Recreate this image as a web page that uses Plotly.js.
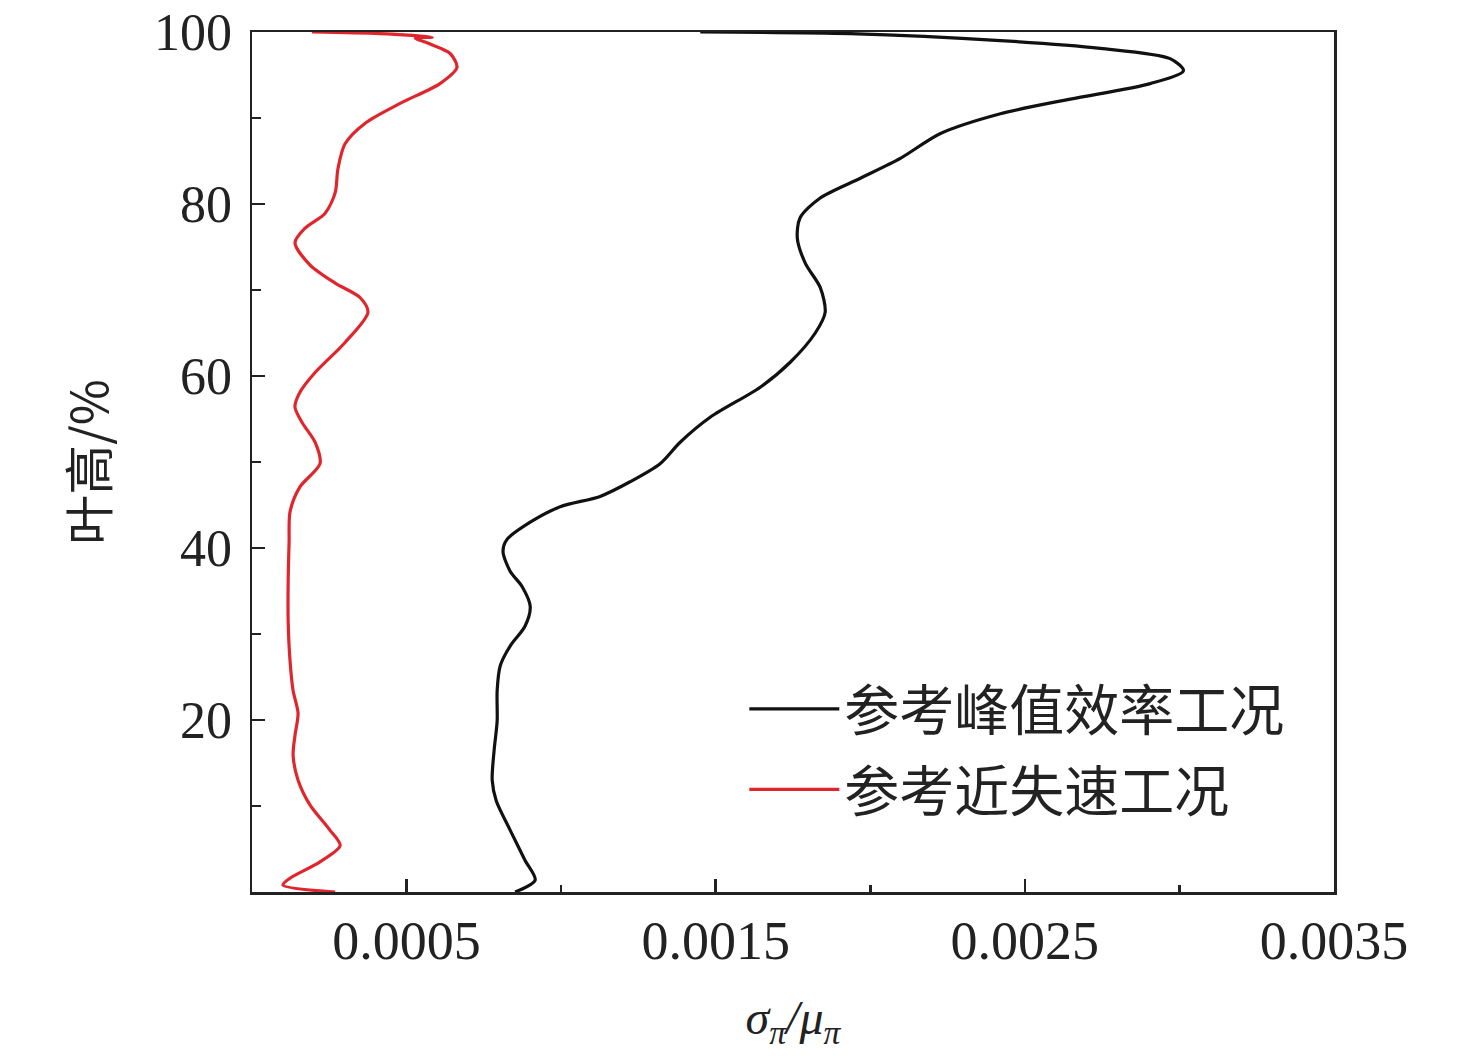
<!DOCTYPE html>
<html>
<head>
<meta charset="utf-8">
<script src="https://cdn.plot.ly/plotly-3.0.1.min.js"></script>
<style>body{margin:0;background:#fff}</style>
</head>
<body>
<div id="myDiv" style="width:1476px;height:1063px"></div>
<script>
// blade height (%) and sigma/mu
var peakHeight = [0, 1.4, 3.7, 7.2, 10.6, 13, 16.4, 19.9, 23.4, 26.3, 28.6, 30.9, 33.2, 35.5, 37.3, 39.6, 41, 43, 44.8, 46, 47.7, 49.8, 52.3, 55.2, 58.7, 61.6, 65, 67.4, 70.3, 73.1, 76, 78.4, 80.7, 83, 85.3, 88.2, 90.5, 92.2, 94, 95.5, 96.9, 98.1, 99, 99.8, 100]
var peakRatio = [0.000851, 0.000916, 0.000883, 0.000835, 0.00079, 0.000777, 0.000783, 0.000793, 0.000793, 0.000803, 0.000835, 0.000883, 0.0009, 0.000874, 0.000835, 0.000812, 0.000825, 0.0009, 0.000997, 0.001126, 0.001223, 0.00132, 0.001385, 0.001482, 0.001644, 0.001741, 0.001822, 0.001854, 0.001838, 0.00179, 0.001764, 0.001773, 0.001838, 0.001968, 0.002097, 0.002227, 0.002421, 0.002647, 0.002906, 0.003013, 0.00297, 0.002744, 0.002421, 0.001935, 0.00145]

var stallHeight = [0, 0.8, 1.6, 3.5, 5.4, 7.2, 10.1, 13, 15.9, 18.2, 20.8, 23.4, 26.9, 31.5, 36.1, 40.7, 44.2, 47.1, 49.8, 52.3, 54.6, 56.4, 58.1, 60.4, 63.9, 67.4, 69.1, 70.8, 72.9, 75.5, 77.2, 78.9, 81.3, 84.1, 87, 89.4, 91.7, 94, 95.9, 97.5, 98.6, 99.3, 99.4, 99.8, 100]
var stallRatio = [0.000269, 0.0001, 0.000123, 0.00022, 0.000285, 0.000252, 0.000188, 0.000149, 0.000133, 0.000139, 0.000149, 0.000133, 0.000123, 0.000117, 0.000117, 0.00012, 0.000123, 0.000155, 0.00022, 0.000204, 0.000162, 0.000139, 0.000155, 0.000204, 0.000301, 0.000375, 0.00035, 0.000269, 0.000188, 0.000139, 0.000172, 0.000236, 0.000269, 0.000278, 0.000301, 0.000366, 0.000479, 0.000608, 0.000663, 0.000641, 0.000576, 0.000528, 0.000583, 0.000414, 0.000194]

var seriesNames = ['参考峰值效率工况', '参考近失速工况']
var xTicks = [0.0005, 0.0015, 0.0025, 0.0035]
var xTickText = ['0.0005', '0.0015', '0.0025', '0.0035']
var yTicks = [20, 40, 60, 80, 100]

var serif = 'Liberation Serif, Times New Roman, serif'
var cjk = 'Noto Sans CJK SC, sans-serif'

var peak = {
  x: peakRatio, y: peakHeight, name: seriesNames[0], legendgroup: 'a',
  mode: 'lines', line: {color: '#111111', width: 3.2, shape: 'spline', smoothing: 0.8}
}
var stall = {
  x: stallRatio, y: stallHeight, name: seriesNames[1], legendgroup: 'b',
  mode: 'lines', line: {color: '#e0262d', width: 3.2, shape: 'spline', smoothing: 0.8}
}

var layout = {
  width: 1476, height: 1063,
  margin: {l: 252, r: 142, t: 32, b: 171},
  paper_bgcolor: '#fff', plot_bgcolor: '#fff',
  showlegend: true,
  legend: {
    x: 0.455, y: 0.262, xanchor: 'left', yanchor: 'top',
    font: {family: cjk, size: 55, color: '#222'},
    bgcolor: 'rgba(0,0,0,0)', itemwidth: 90, tracegroupgap: 6
  },
  xaxis: {
    range: [0, 0.0035],
    tickmode: 'array', tickvals: xTicks, ticktext: xTickText,
    ticks: 'inside', ticklen: 13, tickwidth: 2.5, tickcolor: '#222',
    minor: {tickmode: 'array', tickvals: [0.001, 0.002, 0.003], ticks: 'inside', ticklen: 7, tickwidth: 2.5, tickcolor: '#222'},
    showline: true, mirror: true, linecolor: '#222', linewidth: 2.5,
    showgrid: false, zeroline: false,
    tickfont: {family: serif, size: 54, color: '#222'},
    ticklabelstandoff: 0,
    title: {text: '<i>σ<sub>π</sub>/μ<sub>π</sub></i>', font: {family: serif, size: 48, color: '#222'}, standoff: 30}
  },
  yaxis: {
    range: [0, 100],
    tickmode: 'array', tickvals: yTicks,
    ticks: 'inside', ticklen: 13, tickwidth: 2.5, tickcolor: '#222',
    minor: {tickmode: 'array', tickvals: [10, 30, 50, 70, 90], ticks: 'inside', ticklen: 9, tickwidth: 2.5, tickcolor: '#222'},
    showline: true, mirror: true, linecolor: '#222', linewidth: 2.5,
    showgrid: false, zeroline: false,
    tickfont: {family: serif, size: 52, color: '#222'},
    ticklabelstandoff: 7, ticklabeloverflow: 'allow',
    title: {text: '叶高/%', font: {family: cjk, size: 50, color: '#222'}, standoff: 30}
  }
}

Plotly.newPlot('myDiv', [peak, stall], layout, {staticPlot: true})
</script>
</body>
</html>
